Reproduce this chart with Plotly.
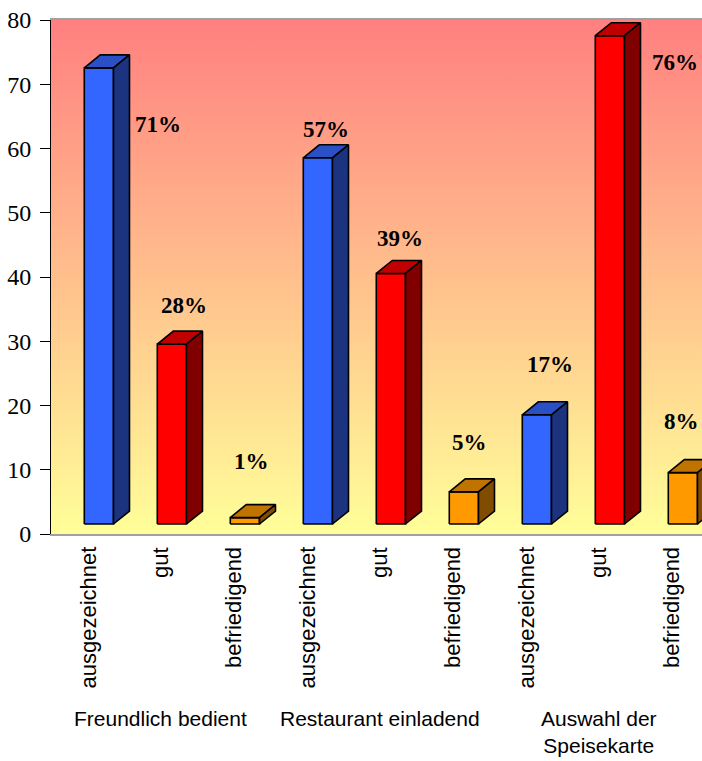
import plotly.graph_objects as go

# ---- data -------------------------------------------------------------
groups = ["Freundlich bedient", "Restaurant einladend", "Auswahl der<br>Speisekarte"]
ratings = ["ausgezeichnet", "gut", "befriedigend"]
values = [71, 28, 1, 57, 39, 5, 17, 76, 8]          # percent, group by group
y_ticks = [0, 10, 20, 30, 40, 50, 60, 70, 80]

# ---- styling ----------------------------------------------------------
# front, top and side face colours for each rating
face_colors = {
    "ausgezeichnet": ("#3366FF", "#2B4FC4", "#1C3380"),
    "gut": ("#FF0000", "#C00000", "#800000"),
    "befriedigend": ("#FF9900", "#C07400", "#804D00"),
}
# value label offsets (px) from the top-front centre of each column
label_shift = [(59, -57), (12, 39), (7, 56), (8, 28), (9, 35),
               (6, 49), (13, 50), (65, -27), (-1, 51)]

W, H = 702, 761
M_L, M_R, M_T, M_B = 51, 0, 20, 227
SLOT_PX = 73                                   # width of one category slot
plot_w = W - M_L - M_R
plot_h = H - M_T - M_B
Y_MAX = 80
px_y = plot_h / Y_MAX                          # pixels per value unit
x_max = plot_w / SLOT_PX

front_left = 0.456                             # front face offset within slot
front_w = 0.40
depth_x = 16 / SLOT_PX
depth_y = 13 / px_y
base = 10 / px_y                               # columns stand slightly above the axis

SANS = "Liberation Sans"
SERIF = "Liberation Serif"

fig = go.Figure()

# gradient wall behind the columns
fig.add_trace(go.Scatter(
    x=[0, x_max, x_max, 0, 0], y=[0, 0, Y_MAX, Y_MAX, 0],
    mode="lines", line=dict(width=0), fill="toself",
    fillgradient=dict(type="vertical", start=0, stop=Y_MAX,
                      colorscale=[[0, "#FFFF99"], [1, "#FF8080"]]),
    hoverinfo="skip", showlegend=False))

n_r = len(ratings)
for r_idx, rating in enumerate(ratings):
    c_front, c_top, c_side = face_colors[rating]
    fx, fy, tx, ty, sx, sy = [], [], [], [], [], []
    for g_idx in range(len(groups)):
        i = g_idx * n_r + r_idx
        v = values[i]
        x0 = i + front_left
        x1 = x0 + front_w
        y0 = base
        y1 = base + v
        fx += [x0, x1, x1, x0, x0, None]
        fy += [y0, y0, y1, y1, y0, None]
        tx += [x0, x1, x1 + depth_x, x0 + depth_x, x0, None]
        ty += [y1, y1, y1 + depth_y, y1 + depth_y, y1, None]
        sx += [x1, x1 + depth_x, x1 + depth_x, x1, x1, None]
        sy += [y0, y0 + depth_y, y1 + depth_y, y1, y0, None]
    for xs, ys, col in ((fx, fy, c_front), (tx, ty, c_top), (sx, sy, c_side)):
        fig.add_trace(go.Scatter(
            x=xs, y=ys, mode="lines", fill="toself", fillcolor=col,
            line=dict(color="black", width=1.6), hoverinfo="skip",
            showlegend=False))

annotations = []
# value labels
for i, v in enumerate(values):
    dx, dy = label_shift[i]
    annotations.append(dict(
        x=i + front_left + front_w / 2, y=base + v, xref="x", yref="y",
        text=f"<b>{v}%</b>", showarrow=False, xanchor="center", yanchor="middle",
        xshift=dx, yshift=dy, font=dict(family=SERIF, size=23, color="black")))

# rating labels under each column
for i in range(len(values)):
    annotations.append(dict(
        x=i + 0.5, y=0, xref="x", yref="y", text=ratings[i % n_r],
        textangle=-90, showarrow=False, xanchor="center", yanchor="top",
        yshift=-11, font=dict(family=SANS, size=22, color="black")))

# group labels
for g_idx, g in enumerate(groups):
    annotations.append(dict(
        x=g_idx * n_r + n_r / 2, y=0, xref="x", yref="y", text=g,
        showarrow=False, xanchor="center", yanchor="top", yshift=-171,
        font=dict(family=SANS, size=21, color="black")))

fig.update_layout(
    width=W, height=H,
    margin=dict(l=M_L, r=M_R, t=M_T, b=M_B, pad=0, autoexpand=False),
    paper_bgcolor="white", plot_bgcolor="white",
    font=dict(family=SERIF, size=24, color="black"),
    showlegend=False,
    annotations=annotations,
    xaxis=dict(range=[0, x_max], showticklabels=False, showgrid=False,
               zeroline=False, showline=True, linecolor="#A0A0A0",
               linewidth=2, mirror=True, ticks="", fixedrange=True),
    yaxis=dict(range=[0, Y_MAX], tickvals=y_ticks,
               ticktext=[str(t) for t in y_ticks], showgrid=False,
               zeroline=False, showline=True, linecolor="black", linewidth=1,
               ticks="outside", ticklen=10, tickcolor="black", tickwidth=1,
               ticklabelstandoff=4, automargin=False,
               tickfont=dict(family=SERIF, size=24, color="black"),
               fixedrange=True),
)

fig.write_html("out.html")
